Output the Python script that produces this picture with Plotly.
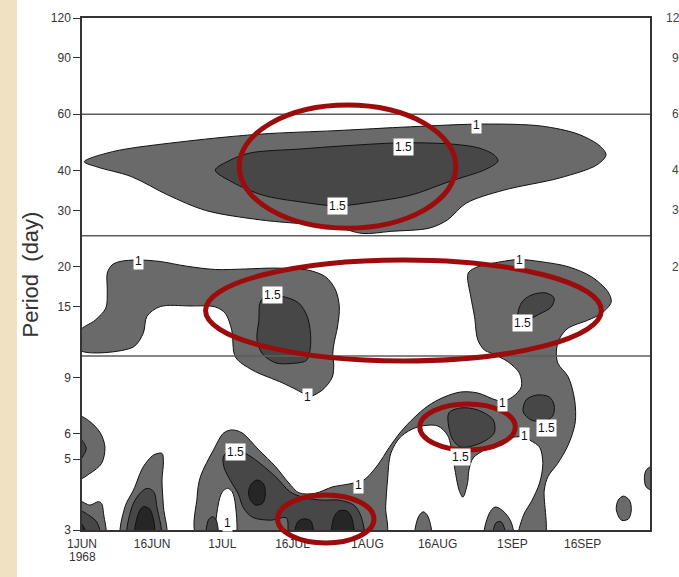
import numpy as np
import plotly.graph_objects as go

# ---------------- axes ----------------
x_range_days = [0, 121.4]            # days after 1 JUN 1968
y_range_period = [3, 120]            # period (day), log axis
x_tick_days = [0, 15, 30, 45, 61, 76, 92, 107]
x_tick_text = ["1JUN", "16JUN", "1JUL", "16JUL", "1AUG", "16AUG", "1SEP", "16SEP"]
y_tick_vals = [3, 5, 6, 9, 15, 20, 30, 40, 60, 90, 120]
band_edges = [60, 25, 10.5]
right_panel_ticks = [120, 90, 60, 40, 30, 20]

# ---------------- contour regions (day, period) ----------------
# level >= 1
top_outer_day = [0.5, 6.5, 22.4, 38.3, 54.3, 70.2, 86.1, 98.1, 106.0, 110.8, 112.0, 110.0, 102.1, 90.1, 82.1, 78.1, 74.2, 66.0, 60.0, 54.3, 38.3, 26.4, 18.4, 10.5, 3.3]
top_outer_per = [42.6, 45.8, 49.4, 52.0, 53.3, 54.8, 55.9, 55.1, 52.0, 47.6, 44.7, 41.6, 37.9, 34.7, 31.6, 28.0, 26.4, 25.8, 25.4, 26.6, 28.0, 30.0, 33.5, 38.3, 41.0]

mid_left_day = [-0.5, 2.8, 5.1, 5.4, 5.4, 6.4, 8.1, 12.0, 16.7, 22.1, 28.5, 34.9, 41.4, 48.4, 52.1, 54.2, 55.0, 54.6, 53.8, 53.6, 53.8, 53.5, 51.4, 48.2, 47.1, 42.9, 36.4, 32.8, 32.0, 30.6, 28.5, 23.1, 16.7, 13.9, 13.1, 10.9, -0.5]
mid_left_per = [12.58, 13.6, 14.85, 16.9, 19.1, 20.24, 20.76, 20.99, 20.76, 20.1, 19.6, 19.67, 19.8, 19.5, 18.57, 16.9, 14.96, 12.95, 11.38, 10.51, 9.92, 9.03, 8.23, 7.82, 8.05, 8.65, 9.5, 10.43, 12.67, 14.3, 14.96, 15.07, 15.0, 14.0, 12.4, 11.2, 10.97]

east_day = [82.4, 82.7, 84.6, 89.6, 93.4, 98.1, 103.9, 108.9, 112.4, 113.1, 111.0, 108.1, 103.9, 102.1, 101.4, 101.7, 103.9, 105.3, 105.4, 103.9, 101.7, 99.6, 98.8, 98.7,
            93.4, 94.3, 96.2, 97.8, 98.5, 97.8, 96.0, 94.6, 92.4, 89.6, 86.0, 83.6, 82.7, 82.4, 81.4, 80.6, 79.6, 78.9, 78.1, 76.0, 71.7, 68.1, 66.0, 65.3, 64.9, 64.6,
            24.9, 24.6, 25.3, 28.1, 30.3, 32.1, 34.2, 37.8, 41.4, 44.2, 46.4, 49.9, 53.5, 57.1, 60.2, 63.2, 65.6, 68.1, 70.9, 73.9, 77.4, 81.0, 84.6, 88.5, 90.2,
            92.1, 93.9, 93.5, 91.0, 87.4, 86.0, 84.6, 83.9, 83.1]
east_per = [18.6, 19.25, 20.0, 20.73, 21.06, 20.73, 20.0, 18.6, 16.7, 15.5, 14.27, 13.6, 12.84, 11.94, 10.97, 9.98, 9.05, 7.65, 6.49, 5.53, 4.85, 4.41, 4.0, 2.8,
            2.8, 3.32, 3.72, 4.21, 4.85, 5.45, 5.70, 5.86, 5.86, 5.70, 5.34, 5.04, 4.62, 4.20, 3.80, 4.0, 4.73, 5.46, 5.95, 6.35, 6.30, 5.87, 5.21, 4.30, 3.55, 2.8,
            2.8, 3.80, 4.40, 5.34, 6.04, 6.17, 6.04, 5.34, 4.73, 4.21, 3.92, 3.91, 4.09, 4.18, 4.30, 4.79, 5.42, 6.08, 6.72, 7.33, 7.82, 8.11, 8.05, 7.65, 7.6,
            7.84, 8.42, 9.28, 10.09, 10.74, 10.97, 11.8, 13.93, 16.1]

jun1_left_day = [-0.5, 1.7, 3.9, 4.9, 4.2, 1.7, -0.5]
jun1_left_per = [6.79, 6.55, 6.04, 5.46, 4.85, 4.51, 4.35]
jun1_bot_day = [-0.5, 1.7, 3.5, 4.2, 4.6, 4.9, -0.5]
jun1_bot_per = [3.68, 3.59, 3.68, 3.63, 3.38, 2.8, 2.8]
jun16_day = [8.5, 9.2, 11.0, 13.1, 15.3, 17.1, 17.4, 17.1, 17.4, 17.8]
jun16_per = [2.8, 3.55, 4.0, 4.73, 5.15, 5.21, 4.91, 4.30, 3.55, 2.8]
aug16_hump_day = [71.3, 71.8, 72.9, 73.9, 74.6]
aug16_hump_per = [2.8, 3.27, 3.42, 3.32, 2.8]
aug27_hump_day = [86.1, 87.0, 88.3, 90.0, 91.7, 92.1]
aug27_hump_per = [2.8, 3.37, 3.54, 3.44, 3.18, 2.8]
sep24_oval_day = [114.2, 114.6, 115.7, 117.0, 117.4, 116.8, 115.3]
sep24_oval_per = [3.47, 3.72, 3.83, 3.72, 3.47, 3.25, 3.22]
sep30_edge_day = [122.5, 120.6, 120.2, 120.6, 122.5]
sep30_edge_per = [4.79, 4.62, 4.36, 4.09, 3.97]

# level < 1 hole
jul_hole_day = [28.9, 29.1, 30.0, 31.1, 32.1, 32.8, 32.6]
jul_hole_per = [2.8, 3.59, 3.95, 4.05, 3.95, 3.59, 2.8]

# level >= 1.5
top_inner_day = [28.5, 31.7, 36.0, 46.7, 55.3, 68.1, 78.9, 84.9, 88.1, 88.9, 86.4, 78.2, 70.3, 62.1, 54.6, 46.7, 38.6, 32.1]
top_inner_per = [40.1, 43.1, 45.4, 46.7, 47.7, 48.8, 48.4, 47.0, 44.7, 42.8, 40.4, 36.8, 33.5, 31.9, 31.0, 31.9, 33.5, 36.8]
mid_left_inner_day = [38.1, 39.4, 42.9, 46.3, 48.2, 48.9, 48.4, 47.8, 44.9, 41.4, 38.6, 37.4, 37.8]
mid_left_inner_per = [15.5, 16.2, 16.13, 15.4, 13.9, 11.8, 10.43, 10.14, 9.96, 10.0, 10.66, 11.8, 13.6]
mid_right_inner_day = [93.2, 93.9, 96.0, 99.2, 100.9, 100.3, 97.7, 94.9]
mid_right_inner_per = [13.8, 15.4, 16.3, 16.55, 15.96, 14.96, 14.2, 13.6]
jun1_left_inner_day = [-0.5, 0.9, -0.5]
jun1_left_inner_per = [5.8, 5.4, 4.97]
jun1_bot_inner_day = [-0.5, 1.4, 3.2, 3.9, -0.5]
jun1_bot_inner_per = [3.44, 3.34, 3.17, 2.8, 2.8]
jun16_inner_day = [9.9, 10.7, 12.4, 13.9, 15.3, 16.0, 16.7]
jun16_inner_per = [2.8, 3.55, 3.91, 4.05, 3.96, 3.55, 2.8]
jul1_small_day = [26.7, 27.0, 27.9, 28.7, 28.9]
jul1_small_per = [2.8, 3.22, 3.30, 3.22, 2.8]
jul_inner_day = [30.2, 31.7, 34.3, 37.1, 41.4, 44.6, 47.8, 51.4, 54.9, 58.1, 59.6, 60.0, 44.6, 43.7, 40.3, 36.4, 34.5, 33.4, 31.9, 30.4]
jul_inner_per = [5.08, 5.34, 5.26, 4.97, 4.40, 3.94, 3.78, 3.72, 3.72, 3.59, 3.32, 2.8, 2.8, 3.27, 3.22, 3.29, 3.52, 3.89, 4.24, 4.69]
aug_inner_day = [78.4, 81.0, 84.6, 87.9, 88.1, 85.3, 81.0, 79.3, 78.4]
aug_inner_per = [6.97, 7.23, 7.12, 6.63, 6.04, 5.62, 5.45, 5.74, 6.30]
sep_inner_day = [94.3, 94.9, 97.1, 99.9, 100.9, 100.7, 99.2, 96.0]
sep_inner_per = [7.02, 7.65, 7.93, 7.82, 7.38, 6.87, 6.58, 6.63]
aug27_inner_day = [87.9, 88.5, 89.6, 90.6]
aug27_inner_per = [2.8, 3.16, 3.18, 2.8]

# level >= 2
jun1_core_day = [-0.5, 1.4, -0.5]
jun1_core_per = [3.19, 2.8, 2.8]
jun16_core_day = [11.4, 12.1, 13.1, 14.6, 15.3]
jun16_core_per = [2.8, 3.39, 3.55, 3.47, 2.8]
jul7_core_day = [35.6, 36.2, 37.5, 38.8, 39.2, 38.6, 37.1, 36.0]
jul7_core_per = [3.94, 4.18, 4.30, 4.18, 3.89, 3.64, 3.59, 3.72]
jul17_core_day = [45.6, 46.1, 47.4, 48.9, 49.3]
jul17_core_per = [2.8, 3.18, 3.25, 3.20, 2.8]
jul25_core_day = [53.6, 53.8, 54.9, 56.6, 57.6, 57.9]
jul25_core_per = [2.8, 3.27, 3.44, 3.44, 3.29, 2.8]

# contour labels
label_text = ["1", "1.5", "1.5", "1", "1.5", "1", "1.5", "1.5", "1", "1", "1", "1.5", "1", "1", "1.5"]
label_day = [84.4, 68.8, 54.6, 12.0, 40.7, 93.4, 94.1, 32.8, 31.0, 59.1, 48.2, 81.0, 89.8, 94.6, 99.2]
label_per = [55.5, 47.5, 30.9, 20.8, 16.3, 21.0, 13.35, 5.28, 3.15, 4.15, 7.84, 5.08, 7.49, 5.9, 6.25]

# highlighted ellipses (day span, period span)
ell_day_lo = [33.6, 26.4, 72.2, 41.8]
ell_day_hi = [79.9, 111.0, 92.6, 62.4]
ell_per_lo = [26.4, 10.14, 5.34, 2.73]
ell_per_hi = [64.1, 21.0, 7.44, 3.86]

# ---------------- figure ----------------
W, H = 679, 577
ML, MR, MT, MB = 82, 29, 18, 47
PW, PH = W - ML - MR, H - MT - MB

C1, C15, C2 = "#6a6a6a", "#474747", "#262626"
FONT = "Liberation Sans, Arial, sans-serif"

fig = go.Figure()


def add_region(days, pers, color):
    d = list(days) + [days[0]]
    p = list(pers) + [pers[0]]
    fig.add_trace(go.Scatter(
        x=d, y=p, mode="lines", fill="toself", fillcolor=color,
        line=dict(color="#111111", width=1, shape="spline", smoothing=0.9),
        hoverinfo="skip", showlegend=False))


for dd, pp in [(top_outer_day, top_outer_per), (mid_left_day, mid_left_per), (east_day, east_per),
               (jun1_left_day, jun1_left_per), (jun1_bot_day, jun1_bot_per), (jun16_day, jun16_per),
               (aug16_hump_day, aug16_hump_per), (aug27_hump_day, aug27_hump_per),
               (sep24_oval_day, sep24_oval_per), (sep30_edge_day, sep30_edge_per)]:
    add_region(dd, pp, C1)

add_region(jul_hole_day, jul_hole_per, "#ffffff")

for dd, pp in [(top_inner_day, top_inner_per), (mid_left_inner_day, mid_left_inner_per),
               (mid_right_inner_day, mid_right_inner_per), (jun1_left_inner_day, jun1_left_inner_per),
               (jun1_bot_inner_day, jun1_bot_inner_per), (jun16_inner_day, jun16_inner_per),
               (jul1_small_day, jul1_small_per), (jul_inner_day, jul_inner_per),
               (aug_inner_day, aug_inner_per), (sep_inner_day, sep_inner_per),
               (aug27_inner_day, aug27_inner_per)]:
    add_region(dd, pp, C15)

for dd, pp in [(jun1_core_day, jun1_core_per), (jun16_core_day, jun16_core_per),
               (jul7_core_day, jul7_core_per), (jul17_core_day, jul17_core_per),
               (jul25_core_day, jul25_core_per)]:
    add_region(dd, pp, C2)

# band separators
for v in band_edges:
    fig.add_trace(go.Scatter(x=[-2, 125], y=[v, v], mode="lines",
                             line=dict(color="#5c5c5c", width=1.5),
                             hoverinfo="skip", showlegend=False))

ly0, ly1 = np.log10(y_range_period[0]), np.log10(y_range_period[1])


def xp(d):
    return (d - x_range_days[0]) / (x_range_days[1] - x_range_days[0])


def yp(p):
    return (np.log10(p) - ly0) / (ly1 - ly0)


shapes = []
# beige paper strip at left edge
shapes.append(dict(type="rect", xref="paper", yref="paper", x0=-ML / PW, x1=(17 - ML) / PW,
                   y0=-MB / PH, y1=1 + MT / PH, fillcolor="#f0e1c2", line=dict(width=0), layer="below"))
for a, b, c, d in zip(ell_day_lo, ell_day_hi, ell_per_lo, ell_per_hi):
    shapes.append(dict(type="circle", xref="paper", yref="paper",
                       x0=xp(a), x1=xp(b), y0=yp(c), y1=yp(d),
                       line=dict(color="#9c0c0c", width=5), layer="above"))

annotations = []
for t, d, p in zip(label_text, label_day, label_per):
    annotations.append(dict(x=d, y=np.log10(p), xref="x", yref="y", text=t, showarrow=False,
                            bgcolor="#ffffff", borderpad=1,
                            font=dict(family=FONT, size=12, color="#111111")))
annotations.append(dict(x=0, y=-26.5 / PH, xref="x", yref="paper", text="1968", showarrow=False,
                        yanchor="middle", font=dict(family=FONT, size=12, color="#333333")))
annotations.append(dict(x=-51 / PW, y=0.499, xref="paper", yref="paper",
                        xanchor="center", yanchor="middle",
                        text="Period\u00a0\u00a0(day)", textangle=-90, showarrow=False,
                        font=dict(family=FONT, size=22, color="#333333")))
for v in right_panel_ticks:
    annotations.append(dict(x=1 + 38 / PW, y=np.log10(v), xref="paper", yref="y", text=str(v),
                            xanchor="right", showarrow=False,
                            font=dict(family=FONT, size=12, color="#444444")))

fig.update_layout(
    width=W, height=H,
    margin=dict(l=ML, r=MR, t=MT, b=MB),
    paper_bgcolor="#ffffff", plot_bgcolor="#ffffff",
    showlegend=False,
    shapes=shapes, annotations=annotations,
    xaxis=dict(range=x_range_days, tickvals=x_tick_days, ticktext=x_tick_text,
               showgrid=False, zeroline=False, showline=True, mirror=True,
               linecolor="#333333", linewidth=1.5, ticks="outside", ticklen=2,
               tickcolor="rgba(0,0,0,0)",
               tickfont=dict(family=FONT, size=12, color="#333333")),
    yaxis=dict(type="log", range=[ly0, ly1], tickvals=y_tick_vals,
               ticktext=[str(v) for v in y_tick_vals],
               showgrid=False, zeroline=False, showline=True, mirror=True,
               linecolor="#333333", linewidth=1.5, ticks="outside", ticklen=7,
               tickcolor="#333333", tickfont=dict(family=FONT, size=12, color="#333333")),
)

fig.write_html("out.html", config={"displayModeBar": False},
               post_script="document.body.style.margin='0px';")
